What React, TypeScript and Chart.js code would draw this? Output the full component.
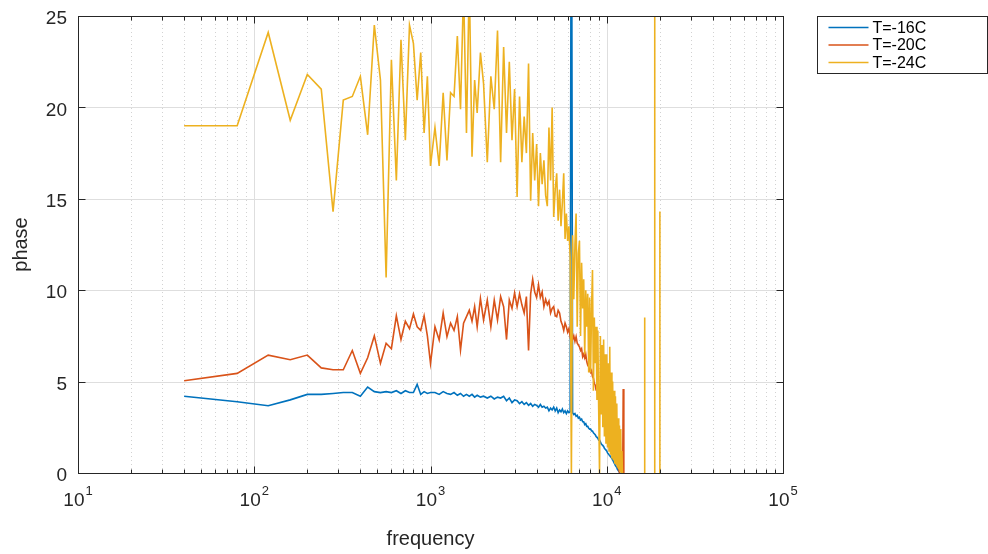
import React, { useEffect, useRef } from "react";
import { Chart, registerables } from "chart.js";

Chart.register(...registerables);

// ---------- data ----------
const FREQ = [
  40, 80, 120, 160, 200, 240, 280, 320, 360, 400, 440, 480, 520, 560, 600, 640, 680, 720, 760, 800, 840, 880, 920, 960, 1000,
  1060, 1120, 1180, 1240, 1300, 1360, 1420, 1480, 1540, 1600, 1660, 1720, 1780, 1840, 1920, 2000,
  2100, 2200, 2300, 2400, 2500, 2600, 2700, 2800, 2900, 3000,
  3100, 3200, 3300, 3400, 3500, 3600, 3700, 3800, 3900, 4000,
  4100, 4200, 4300, 4400, 4500, 4600, 4700, 4800, 4900, 5000,
  5100, 5200, 5300, 5400, 5500, 5600, 5700, 5800, 5900, 6000,
  6100, 6200, 6300, 6400, 6500, 6600, 6700, 6800, 6900, 7000,
  7100, 7200, 7300, 7400, 7500, 7600, 7700, 7800, 7900, 8000,
  8100, 8200, 8300, 8400, 8500, 8600, 8700, 8800, 8900, 9000,
  9100, 9200, 9300, 9400, 9500, 9600, 9700, 9800, 9900, 10000,
  10100, 10200, 10300, 10400, 10500, 10600, 10700, 10800, 10900, 11000,
  11100, 11200, 11300, 11400, 11500, 11600, 11700, 11800, 11900, 12000,
  12100, 12200, 12300, 12400,
];

const PHASE_16C = [
  4.2, 3.9, 3.68, 4.0, 4.3, 4.3, 4.35, 4.4, 4.4, 4.2, 4.7, 4.45, 4.4, 4.45, 4.4, 4.5, 4.35, 4.5, 4.4, 4.4, 4.85, 4.3, 4.45, 4.35, 4.4,
  4.4, 4.3, 4.45, 4.35, 4.3, 4.4, 4.25, 4.35, 4.2, 4.3, 4.2, 4.3, 4.15, 4.25, 4.15, 4.2,
  4.1, 4.2, 4.05, 4.15, 4.1, 4.2, 3.95, 4.1, 3.85, 4.0,
  3.95, 3.8, 3.9, 3.75, 3.85, 3.7, 3.8, 3.65, 3.75, 3.7,
  3.6, 3.75, 3.6, 3.65, 3.55, 3.6, 3.4, 3.55, 3.45, 3.6,
  3.4, 3.55, 3.3, 3.45, 3.35, 3.5, 3.3, 3.4, 3.25, 3.4,
  3.3, 3.35, 40, 3.3, 3.2, 3.25, 3.1, 3.15, 3.0, 3.05,
  2.9, 2.95, 2.8, 2.8, 2.65, 2.7, 2.55, 2.55, 2.45, 2.4,
  2.4, 2.3, 2.3, 2.2, 2.15, 2.1, 2.0, 1.95, 1.9, 1.8,
  1.8, 1.7, 1.6, 1.55, 1.5, 1.45, 1.35, 1.3, 1.25, 1.2,
  1.1, 1.05, 1.0, 0.95, 0.9, 0.85, 0.8, 0.7, 0.65, 0.55,
  0.5, 0.4, 0.35, 0.3, 0.2, 0.15, 0.1, 0.05, -0.1, -0.3,
  -0.5, -0.7, -0.9, -1.1,
];

const PHASE_20C = [
  5.05, 5.45, 6.45, 6.2, 6.45, 5.75, 5.65, 5.65, 6.7, 5.45, 6.3, 7.5, 6.0, 7.1, 6.8, 8.6, 7.3, 8.3, 7.9, 8.7, 8.0, 7.8, 8.6, 7.5, 6.0,
  8.0, 7.28, 8.75, 7.46, 8.2, 7.8, 8.55, 6.73, 8.2, 8.55, 8.9, 8.3, 9.1, 8.0, 9.55, 8.37,
  9.46, 8.0, 9.46, 8.37, 9.65, 9.1, 7.3, 9.46, 9.0, 9.85,
  9.1, 9.8, 9.2, 8.75, 9.65, 6.7, 9.8, 10.6, 9.9, 9.6,
  10.3, 9.6, 9.9, 9.1, 9.5, 9.2, 9.4, 8.75, 9.0, 9.1,
  8.6, 8.55, 8.9, 8.75, 8.3, 8.1, 7.8, 8.2, 8.0, 7.7,
  7.9, 7.46, 7.6, 7.3, 7.5, 7.2, 7.46, 7.1, 7.0, 6.9,
  6.7, 6.8, 6.36, 6.5, 6.3, 6.5, 6.1, 5.9, 5.8, 5.6,
  5.5, 5.6, 5.27, 5.2, 4.9, 4.8, 4.54, 4.5, 4.3, 4.2,
  4.0, 3.9, 3.7, 3.6, 3.45, 3.3, 3.1, 3.0, 2.8, 2.7,
  2.5, 2.4, 2.2, 2.0, 1.9, 1.7, 1.5, 1.35, 1.26, 1.1,
  0.95, 0.8, 0.65, 0.55, 0.4, 0.3, 0.2, 0.05, -0.2, -0.5,
  -0.8, -1.0, -1.2, 4.6,
];
const TAIL_FREQ_20C = [12500];
const TAIL_PHASE_20C = [-1.5];

const PHASE_24C = [
  19.0, 19.0, 24.1, 19.3, 21.8, 21.0, 14.3, 20.4, 20.6, 21.7, 18.5, 24.5, 21.5, 10.7, 22.6, 16.0, 23.7, 18.2, 24.5, 23.5, 20.4, 23.0, 18.6, 21.7, 16.8,
  18.9, 16.8, 20.8, 17.1, 20.8, 20.6, 23.9, 19.9, 26.5, 18.6, 27.0, 17.3, 21.5, 19.7, 23.0, 21.3,
  17.0, 21.7, 19.9, 24.2, 17.0, 23.3, 18.6, 22.5, 18.2, 21.0,
  15.1, 20.6, 17.0, 19.5, 17.5, 22.4, 14.9, 18.6, 16.0, 18.0,
  14.6, 17.5, 15.8, 17.1, 15.2, 14.6, 18.9, 16.0, 20.0, 14.0,
  15.5, 16.4, 13.8, 15.5, 13.5, 14.8, 16.4, 12.8, 14.2, 12.7,
  13.5, 11.8, 0.0, 13.0, 9.5, 12.5, 14.2, 8.0, 12.0, 12.7,
  7.5, 11.5, 9.0, 10.6, 6.5, 10.0, 8.0, 9.8, 5.5, 9.6,
  5.5, 9.0, 11.1, 4.5, 8.5, 6.0, 8.0, 4.0, 7.8, 3.5,
  0.0, 7.5, 3.2, 7.0, 2.5, 7.3, 2.0, 6.5, 1.6, 6.5,
  1.4, 6.0, 1.2, 6.9, 1.0, 5.5, 0.8, 5.0, 0.7, 4.5,
  0.5, 4.2, 0.5, 3.8, 0.3, 3.0, 0.2, 2.6, 0.1, 2.4,
  -0.2, 1.2, -0.5, -1.0,
];
const TAIL_FREQ_24C = [12600, 16360, 16400, 16440, 18660, 18700, 18740, 19960, 20000, 20040];
const TAIL_PHASE_24C = [-3, -3, 8.5, -3, -3, 32, -3, -3, 14.3, -3];

const SERIES_LABELS = ["T=-16C", "T=-20C", "T=-24C"];
const SERIES_COLORS = ["#0072BD", "#D95319", "#EDB120"];

const X_DECADES = [10, 100, 1000, 10000, 100000];
const X_EXPONENTS = ["1", "2", "3", "4", "5"];
const MINOR_MULTIPLIERS = [2, 3, 4, 5, 6, 7, 8, 9];
const Y_TICKS = [0, 5, 10, 15, 20, 25];

const X_TITLE = "frequency";
const Y_TITLE = "phase";

// ---------- styling ----------
const FONT = '"Liberation Sans", Arial, Helvetica, sans-serif';
const AXIS_COLOR = "#262626";
const GRID_COLOR = "#dedede";
const MINOR_GRID_COLOR = "#d2d2d2";

const toPoints = (fs: number[], vs: number[]) => fs.map((f, i) => ({ x: f, y: vs[i] }));

const crisp = (v: number) => Math.round(v) + 0.5;

const matlabAxesPlugin = {
  id: "matlabAxes",
  beforeDatasetsDraw(chart: any) {
    const { ctx, chartArea: a, scales } = chart;
    const xs = scales.x;
    const ys = scales.y;
    ctx.save();
    ctx.lineWidth = 1;
    ctx.strokeStyle = MINOR_GRID_COLOR;
    ctx.setLineDash([1, 3]);
    for (const d of X_DECADES.slice(0, -1)) {
      for (const m of MINOR_MULTIPLIERS) {
        const px = crisp(xs.getPixelForValue(d * m));
        ctx.beginPath();
        ctx.moveTo(px, a.top);
        ctx.lineTo(px, a.bottom);
        ctx.stroke();
      }
    }
    ctx.setLineDash([]);
    ctx.strokeStyle = GRID_COLOR;
    for (const d of X_DECADES.slice(1, -1)) {
      const px = crisp(xs.getPixelForValue(d));
      ctx.beginPath();
      ctx.moveTo(px, a.top);
      ctx.lineTo(px, a.bottom);
      ctx.stroke();
    }
    for (const v of Y_TICKS.slice(1, -1)) {
      const py = crisp(ys.getPixelForValue(v));
      ctx.beginPath();
      ctx.moveTo(a.left, py);
      ctx.lineTo(a.right, py);
      ctx.stroke();
    }
    ctx.restore();
  },
  afterDatasetsDraw(chart: any) {
    const { ctx, chartArea: a, scales } = chart;
    const xs = scales.x;
    const ys = scales.y;
    const L = crisp(a.left);
    const R = crisp(a.right);
    const T = crisp(a.top);
    const B = crisp(a.bottom);
    ctx.save();
    ctx.strokeStyle = AXIS_COLOR;
    ctx.lineWidth = 1;
    ctx.strokeRect(L, T, R - L, B - T);

    ctx.beginPath();
    for (const d of X_DECADES) {
      const px = crisp(xs.getPixelForValue(d));
      ctx.moveTo(px, B);
      ctx.lineTo(px, B - 7);
      ctx.moveTo(px, T);
      ctx.lineTo(px, T + 7);
    }
    for (const d of X_DECADES.slice(0, -1)) {
      for (const m of MINOR_MULTIPLIERS) {
        const px = crisp(xs.getPixelForValue(d * m));
        ctx.moveTo(px, B);
        ctx.lineTo(px, B - 4);
        ctx.moveTo(px, T);
        ctx.lineTo(px, T + 4);
      }
    }
    for (const v of Y_TICKS) {
      const py = crisp(ys.getPixelForValue(v));
      ctx.moveTo(L, py);
      ctx.lineTo(L + 7, py);
      ctx.moveTo(R, py);
      ctx.lineTo(R - 7, py);
    }
    ctx.stroke();

    ctx.fillStyle = AXIS_COLOR;
    ctx.font = `19px ${FONT}`;
    ctx.textAlign = "right";
    ctx.textBaseline = "middle";
    for (const v of Y_TICKS) {
      ctx.fillText(String(v), a.left - 11, ys.getPixelForValue(v) + 3);
    }

    ctx.textBaseline = "alphabetic";
    ctx.textAlign = "left";
    X_DECADES.forEach((d, i) => {
      const px = xs.getPixelForValue(d);
      ctx.font = `19px ${FONT}`;
      const wb = ctx.measureText("10").width;
      ctx.font = `13px ${FONT}`;
      const we = ctx.measureText(X_EXPONENTS[i]).width;
      const x0 = px - (wb + we + 1) / 2;
      ctx.font = `19px ${FONT}`;
      ctx.fillText("10", x0, a.bottom + 33);
      ctx.font = `13px ${FONT}`;
      ctx.fillText(X_EXPONENTS[i], x0 + wb + 1, a.bottom + 22);
    });

    ctx.font = `20px ${FONT}`;
    ctx.textAlign = "center";
    ctx.textBaseline = "alphabetic";
    ctx.fillText(X_TITLE, (a.left + a.right) / 2, a.bottom + 72);
    ctx.save();
    ctx.translate(27, (a.top + a.bottom) / 2);
    ctx.rotate(-Math.PI / 2);
    ctx.fillText(Y_TITLE, 0, 0);
    ctx.restore();

    const lx = 817.5;
    const ly = 16.5;
    const lw = 170;
    const lh = 57;
    ctx.fillStyle = "#ffffff";
    ctx.fillRect(lx, ly, lw, lh);
    ctx.strokeStyle = AXIS_COLOR;
    ctx.lineWidth = 1;
    ctx.strokeRect(lx, ly, lw, lh);
    ctx.font = `16px ${FONT}`;
    ctx.textAlign = "left";
    ctx.textBaseline = "middle";
    SERIES_LABELS.forEach((lab, i) => {
      const yy = ly + 11 + i * 17.5;
      ctx.strokeStyle = SERIES_COLORS[i];
      ctx.lineWidth = 1.6;
      ctx.beginPath();
      ctx.moveTo(lx + 11, yy);
      ctx.lineTo(lx + 51, yy);
      ctx.stroke();
      ctx.fillStyle = "#000000";
      ctx.fillText(lab, lx + 55, yy + 1);
    });
    ctx.restore();
  },
};

export default function App() {
  const canvasRef = useRef<HTMLCanvasElement | null>(null);

  useEffect(() => {
    const canvas = canvasRef.current;
    if (!canvas) return;
    const datasets = [
      {
        label: SERIES_LABELS[0],
        data: toPoints(FREQ, PHASE_16C),
        borderColor: SERIES_COLORS[0],
        order: 3,
      },
      {
        label: SERIES_LABELS[1],
        data: toPoints(FREQ.concat(TAIL_FREQ_20C), PHASE_20C.concat(TAIL_PHASE_20C)),
        borderColor: SERIES_COLORS[1],
        order: 2,
      },
      {
        label: SERIES_LABELS[2],
        data: toPoints(FREQ.concat(TAIL_FREQ_24C), PHASE_24C.concat(TAIL_PHASE_24C)),
        borderColor: SERIES_COLORS[2],
        order: 1,
      },
    ].map((ds) => ({
      ...ds,
      borderWidth: 1.6,
      pointRadius: 0,
      tension: 0,
      fill: false,
      clip: 0,
    }));

    const chart = new Chart(canvas, {
      type: "line",
      data: { datasets },
      options: {
        responsive: false,
        animation: false,
        devicePixelRatio: 1,
        layout: { padding: { left: 78, right: 205, top: 16, bottom: 81 } },
        scales: {
          x: { type: "logarithmic", min: 10, max: 100000, display: false },
          y: { type: "linear", min: 0, max: 25, display: false },
        },
        plugins: {
          legend: { display: false },
          tooltip: { enabled: false },
        },
      },
      plugins: [matlabAxesPlugin],
    } as any);
    return () => chart.destroy();
  }, []);

  return (
    <div style={{ position: "absolute", left: 0, top: 0, width: 988, height: 554, background: "#ffffff" }}>
      <canvas ref={canvasRef} width={988} height={554} style={{ display: "block" }} />
    </div>
  );
}
